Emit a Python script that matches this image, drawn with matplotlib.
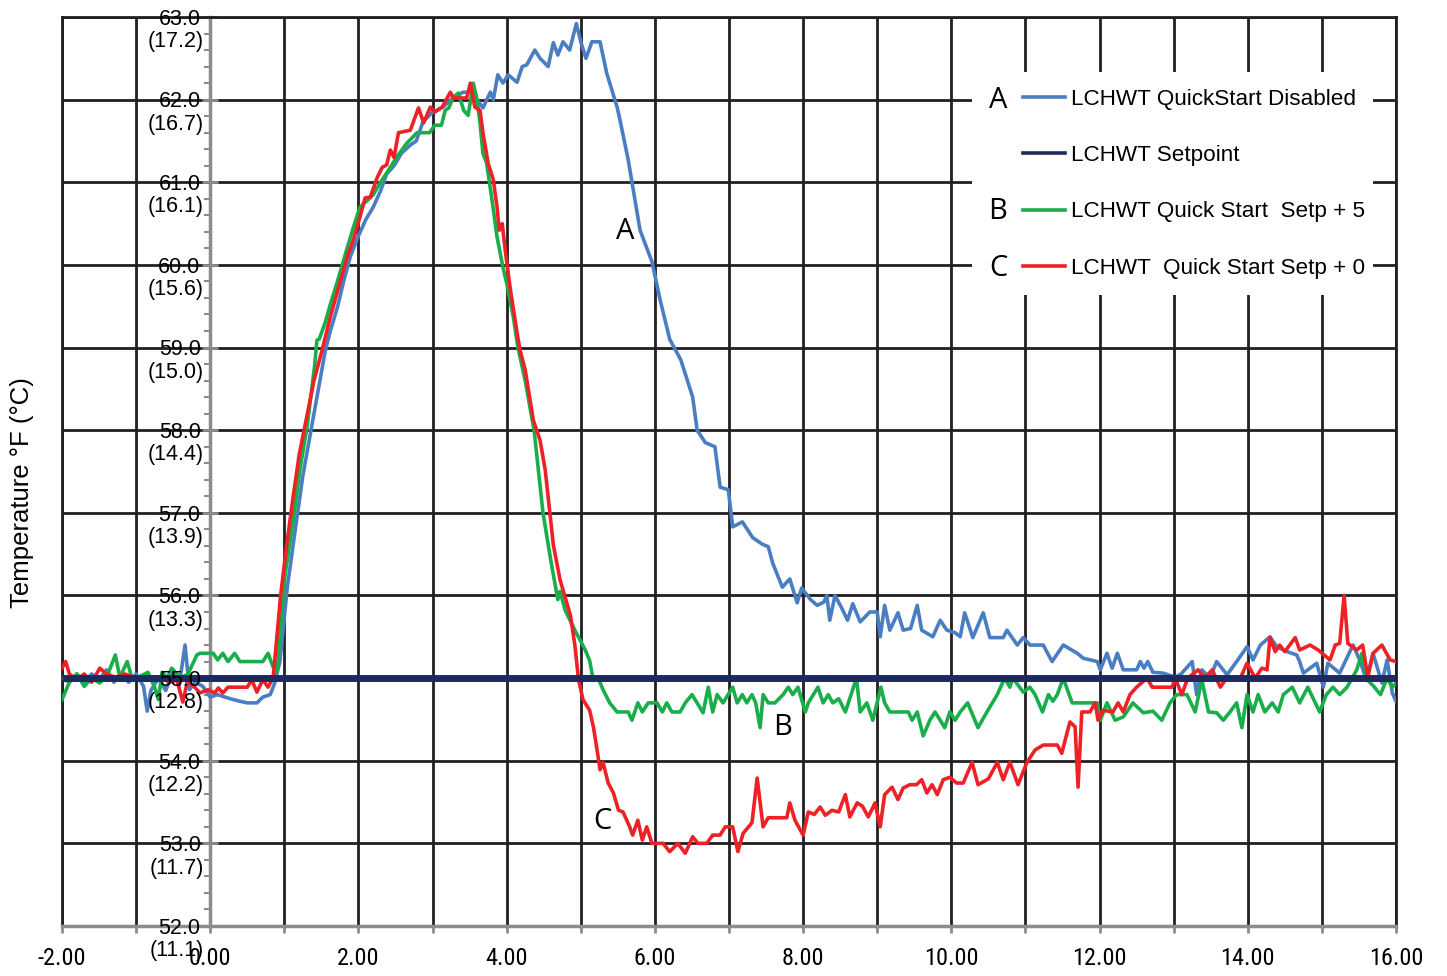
import numpy as np
import matplotlib
matplotlib.use("Agg")
import matplotlib.pyplot as plt
from matplotlib.lines import Line2D
from matplotlib.patches import Rectangle
from matplotlib.ticker import MultipleLocator
from matplotlib import font_manager as fm

# ---------------- data ----------------
blue_x = [-2.0, -1.9, -1.8, -1.7, -1.6, -1.5, -1.4, -1.3, -1.2, -1.1, -1.0, -0.9, -0.85, -0.8, -0.7, -0.6,
          -0.5, -0.42, -0.34, -0.28, -0.2, -0.1, 0.0, 0.1, 0.2, 0.31, 0.4, 0.5, 0.63, 0.71, 0.81, 0.87,
          0.94, 1.04, 1.14, 1.25, 1.35, 1.45, 1.55, 1.62, 1.72, 1.8, 1.89, 2.0, 2.1, 2.2, 2.3, 2.38,
          2.48, 2.58, 2.7, 2.78, 2.87, 2.99, 3.14, 3.25, 3.41, 3.51, 3.60, 3.68, 3.78, 3.82, 3.88, 3.95,
          4.02, 4.14, 4.21, 4.27, 4.38, 4.45, 4.56, 4.63, 4.69, 4.76, 4.85, 4.94, 5.0, 5.07, 5.15, 5.26,
          5.35, 5.49, 5.53, 5.64, 5.80, 5.96, 6.07, 6.2, 6.35, 6.51, 6.57, 6.68, 6.81, 6.88, 6.99, 7.05,
          7.18, 7.32, 7.45, 7.53, 7.59, 7.72, 7.82, 7.92, 7.98, 8.1, 8.19, 8.28, 8.32, 8.36, 8.43, 8.52,
          8.6, 8.67, 8.77, 8.9, 9.0, 9.04, 9.1, 9.17, 9.28, 9.35, 9.45, 9.54, 9.6, 9.75, 9.85, 9.94,
          10.05, 10.12, 10.18, 10.29, 10.43, 10.52, 10.6, 10.70, 10.75, 10.89, 10.97, 11.06, 11.24, 11.36,
          11.51, 11.70, 11.78, 11.97, 12.01, 12.1, 12.17, 12.24, 12.32, 12.5, 12.55, 12.6, 12.65, 12.72,
          12.86, 13.02, 13.1, 13.25, 13.31, 13.38, 13.49, 13.58, 13.72, 13.85, 13.99, 14.07, 14.17, 14.3,
          14.39, 14.53, 14.66, 14.7, 14.75, 14.93, 15.02, 15.08, 15.24, 15.42, 15.51, 15.6, 15.69, 15.81,
          15.88, 15.95, 16.0]
blue_y = [55.0, 54.95, 55.05, 54.95, 55.05, 54.98, 55.1, 54.95, 55.05, 54.95, 55.05, 54.9, 54.6, 54.85, 55.0, 54.85,
          55.1, 54.9, 55.4, 54.86, 54.95, 54.9, 54.77, 54.8, 54.77, 54.74, 54.72, 54.7, 54.7, 54.77, 54.8, 54.94,
          55.2, 56.1, 56.75, 57.45, 57.95, 58.45, 58.95, 59.2, 59.5, 59.8, 60.1, 60.35, 60.55, 60.7, 60.9, 61.1,
          61.2, 61.35, 61.45, 61.5, 61.73, 61.84, 61.91, 62.0, 62.09, 62.09, 62.0, 61.9, 62.09, 62.0, 62.3, 62.2,
          62.3, 62.21, 62.4, 62.42, 62.6, 62.5, 62.4, 62.69, 62.54, 62.7, 62.6, 62.92, 62.7, 62.5, 62.7, 62.7,
          62.32, 61.91, 61.75, 61.27, 60.42, 60.04, 59.58, 59.1, 58.85, 58.40, 58.0, 57.85, 57.8, 57.31, 57.28, 56.83,
          56.89, 56.7, 56.62, 56.59, 56.39, 56.1, 56.2, 55.91, 56.09, 55.95, 55.88, 55.92, 56.0, 55.7, 56.0, 55.85,
          55.7, 55.9, 55.68, 55.8, 55.8, 55.5, 55.88, 55.58, 55.79, 55.58, 55.6, 55.88, 55.58, 55.5, 55.7, 55.58,
          55.55, 55.5, 55.79, 55.49, 55.79, 55.49, 55.49, 55.49, 55.58, 55.4, 55.49, 55.4, 55.4, 55.2,
          55.4, 55.3, 55.24, 55.2, 55.1, 55.3, 55.12, 55.3, 55.1, 55.1, 55.2, 55.12, 55.2, 55.07,
          55.06, 55.01, 55.05, 55.2, 54.8, 55.1, 55.0, 55.2, 55.04, 55.2, 55.38, 55.22, 55.4, 55.5,
          55.38, 55.32, 55.28, 55.2, 55.06, 55.18, 54.89, 55.18, 55.06, 55.4, 55.22, 54.98, 55.3, 54.94,
          55.22, 54.82, 54.72]

green_x = [-2.0, -1.9, -1.8, -1.7, -1.6, -1.49, -1.38, -1.28, -1.22, -1.12, -1.05, -0.95, -0.84, -0.75, -0.70,
           -0.65, -0.58, -0.52, -0.4, -0.3, -0.18, -0.14, 0.04, 0.1, 0.17, 0.24, 0.33, 0.40, 0.55, 0.71, 0.78,
           0.85, 0.90, 1.01, 1.12, 1.21, 1.31, 1.41, 1.44, 1.47, 1.55, 1.63, 1.71, 1.84, 1.93, 2.02, 2.12, 2.2,
           2.29, 2.38, 2.52, 2.65, 2.79, 2.96, 3.03, 3.12, 3.17, 3.22, 3.28, 3.35, 3.42, 3.48, 3.55, 3.6, 3.64,
           3.68, 3.73, 3.8, 3.87, 3.95, 4.0, 4.09, 4.15, 4.25, 4.37, 4.49, 4.6, 4.65, 4.69, 4.72, 4.79, 4.92,
           5.06, 5.12, 5.17, 5.23, 5.30, 5.39, 5.49, 5.64, 5.69, 5.77, 5.83, 5.91, 6.03, 6.10, 6.16, 6.23, 6.34,
           6.41, 6.50, 6.57, 6.65, 6.72, 6.78, 6.84, 6.92, 7.05, 7.11, 7.18, 7.24, 7.31, 7.36, 7.42, 7.46, 7.53,
           7.62, 7.73, 7.80, 7.86, 7.93, 8.03, 8.07, 8.2, 8.27, 8.34, 8.4, 8.48, 8.57, 8.72, 8.77, 8.86, 8.94,
           9.05, 9.1, 9.17, 9.42, 9.47, 9.54, 9.62, 9.71, 9.78, 9.85, 9.91, 9.98, 10.05, 10.12, 10.22, 10.36,
           10.48, 10.62, 10.72, 10.79, 10.83, 10.97, 11.06, 11.13, 11.23, 11.31, 11.37, 11.43, 11.51, 11.63,
           11.97, 12.01, 12.1, 12.21, 12.32, 12.45, 12.59, 12.72, 12.84, 12.95, 13.04, 13.18, 13.29, 13.38,
           13.47, 13.58, 13.67, 13.76, 13.85, 13.92, 13.99, 14.07, 14.14, 14.23, 14.33, 14.41, 14.48, 14.60,
           14.70, 14.81, 14.97, 15.06, 15.15, 15.24, 15.34, 15.47, 15.54, 15.61, 15.7, 15.79, 15.88, 15.95, 16.0]
green_y = [54.74, 54.95, 55.05, 54.9, 55.0, 54.94, 55.05, 55.28, 55.01, 55.2, 54.98, 55.02, 55.07, 54.89, 54.74,
           55.07, 55.0, 55.12, 55.0, 55.05, 55.28, 55.3, 55.3, 55.22, 55.3, 55.2, 55.3, 55.2, 55.2, 55.2, 55.3,
           55.13, 55.07, 56.25, 56.91, 57.52, 58.06, 58.79, 59.09, 59.1, 59.3, 59.55, 59.78, 60.18, 60.45, 60.7, 60.78, 60.85,
           60.99, 61.11, 61.31, 61.47, 61.6, 61.6, 61.69, 61.69, 61.87, 61.9, 62.03, 62.08, 61.87, 61.81, 62.2, 62.0, 61.72,
           61.35, 61.23, 60.8, 60.34, 59.97, 59.78, 59.37, 59.01, 58.6, 58.0, 57.0, 56.4, 56.15, 55.95, 56.05, 55.82, 55.58,
           55.34, 55.21, 54.97, 55.01, 54.86, 54.70, 54.59, 54.59, 54.49, 54.70, 54.59, 54.70, 54.70, 54.59, 54.70, 54.59, 54.59,
           54.70, 54.80, 54.70, 54.58, 54.89, 54.59, 54.80, 54.70, 54.89, 54.70, 54.80, 54.70, 54.80, 54.7, 54.40, 54.80, 54.70,
           54.70, 54.80, 54.89, 54.80, 54.89, 54.59, 54.70, 54.89, 54.70, 54.80, 54.70, 54.75, 54.59, 55.0, 54.59, 54.70, 54.49,
           54.89, 54.7, 54.59, 54.59, 54.49, 54.59, 54.3, 54.49, 54.59, 54.49, 54.4, 54.59, 54.49, 54.59, 54.7, 54.4,
           54.59, 54.8, 55.0, 54.89, 55.0, 54.83, 54.89, 54.8, 54.59, 54.8, 54.72, 54.8, 55.0, 54.7,
           54.7, 54.49, 54.7, 54.49, 54.53, 54.7, 54.58, 54.6, 54.49, 54.7, 54.8, 54.8, 54.59, 54.98,
           54.59, 54.58, 54.49, 54.59, 54.7, 54.4, 54.8, 54.59, 54.8, 54.59, 54.7, 54.59, 54.8, 54.89,
           54.7, 54.89, 54.59, 54.8, 54.89, 54.8, 54.89, 55.1, 55.3, 54.98, 54.9, 54.8, 55.0, 54.89, 54.94]

red_x = [-2.0, -1.95, -1.9, -1.8, -1.7, -1.6, -1.49, -1.4, -1.28, -1.15, -1.04, -0.92, -0.81, -0.68, -0.54,
         -0.45, -0.37, -0.31, -0.22, -0.14, -0.03, 0.06, 0.11, 0.17, 0.24, 0.36, 0.50, 0.56, 0.63, 0.71, 0.78,
         0.85, 0.95, 1.03, 1.12, 1.2, 1.3, 1.4, 1.51, 1.62, 1.75, 1.85, 1.93, 2.02, 2.09, 2.16, 2.25, 2.32,
         2.38, 2.43, 2.48, 2.54, 2.70, 2.81, 2.88, 2.97, 3.03, 3.13, 3.24, 3.28, 3.46, 3.51, 3.57, 3.64, 3.68,
         3.75, 3.82, 3.87, 3.9, 3.94, 3.98, 4.05, 4.14, 4.18, 4.25, 4.36, 4.45, 4.52, 4.63, 4.72, 4.86, 4.92,
         4.97, 5.03, 5.12, 5.17, 5.22, 5.26, 5.30, 5.37, 5.44, 5.51, 5.57, 5.66, 5.70, 5.77, 5.83, 5.89, 5.96,
         6.11, 6.20, 6.31, 6.41, 6.51, 6.58, 6.70, 6.78, 6.88, 6.95, 7.05, 7.12, 7.19, 7.31, 7.38, 7.46, 7.53,
         7.78, 7.82, 7.89, 8.0, 8.07, 8.15, 8.23, 8.30, 8.39, 8.48, 8.57, 8.63, 8.73, 8.8, 8.88, 8.97, 9.04,
         9.10, 9.20, 9.28, 9.35, 9.44, 9.53, 9.60, 9.67, 9.74, 9.81, 9.89, 9.98, 10.07, 10.16, 10.28, 10.36,
         10.5, 10.62, 10.70, 10.79, 10.9, 11.02, 11.13, 11.24, 11.43, 11.49, 11.60, 11.67, 11.71, 11.76, 11.87,
         11.94, 11.98, 12.05, 12.18, 12.25, 12.32, 12.41, 12.5, 12.64, 12.71, 12.88, 12.98, 13.02, 13.11, 13.19,
         13.33, 13.42, 13.52, 13.63, 13.72, 13.9, 13.99, 14.10, 14.19, 14.26, 14.3, 14.37, 14.43, 14.5, 14.64,
         14.7, 14.84, 14.95, 15.11, 15.18, 15.24, 15.30, 15.35, 15.47, 15.55, 15.62, 15.69, 15.81, 15.92, 16.0]
red_y = [55.12, 55.2, 55.05, 54.98, 55.05, 54.95, 55.12, 55.05, 55.01, 55.05, 55.01, 54.98, 55.0, 55.01, 54.95,
         54.98, 54.71, 54.95, 54.9, 54.82, 54.86, 54.82, 54.88, 54.82, 54.89, 54.89, 54.89, 54.98, 54.83, 54.98, 54.89,
         55.01, 56.0, 56.6, 57.2, 57.7, 58.15, 58.6, 58.97, 59.37, 59.78, 60.1, 60.3, 60.58, 60.81, 60.82, 61.05, 61.18,
         61.21, 61.39, 61.3, 61.6, 61.63, 61.9, 61.72, 61.91, 61.85, 61.91, 62.09, 62.02, 62.02, 62.2, 61.91, 61.87, 61.6,
         61.23, 61.03, 60.7, 60.42, 60.5, 60.18, 59.7, 59.18, 58.97, 58.73, 58.12, 57.88, 57.52, 56.61, 56.19, 55.76, 55.4,
         54.98, 54.74, 54.61, 54.41, 54.13, 53.89, 53.98, 53.73, 53.61, 53.40, 53.38, 53.2, 53.1, 53.28, 53.04, 53.2, 53.0,
         53.0, 52.9, 53.0, 52.88, 53.08, 53.0, 53.0, 53.1, 53.1, 53.2, 53.2, 52.9, 53.12, 53.25, 53.79, 53.2, 53.31,
         53.31, 53.49, 53.28, 53.1, 53.38, 53.35, 53.44, 53.34, 53.40, 53.38, 53.59, 53.32, 53.49, 53.45, 53.32, 53.49, 53.2,
         53.59, 53.68, 53.53, 53.67, 53.71, 53.71, 53.77, 53.61, 53.71, 53.59, 53.77, 53.80, 53.73, 53.73, 53.98, 53.71,
         53.78, 53.98, 53.77, 53.98, 53.71, 53.98, 54.13, 54.19, 54.19, 54.09, 54.47, 54.41, 53.68, 54.59, 54.59,
         54.7, 54.49, 54.61, 54.59, 54.7, 54.59, 54.8, 54.89, 55.0, 54.89, 54.89, 54.89, 55.0, 54.8, 55.0,
         55.1, 55.0, 55.1, 54.89, 55.01, 55.0, 55.18, 55.0, 55.12, 55.1, 55.49, 55.32, 55.4, 55.32, 55.49,
         55.34, 55.4, 55.34, 55.22, 55.4, 55.42, 56.0, 55.42, 55.34, 55.4, 55.01, 55.3, 55.4, 55.22, 55.2]

setpoint_x = [-2.0, 16.0]
setpoint_y = [55.0, 55.0]

f_ticks = [63, 62, 61, 60, 59, 58, 57, 56, 55, 54, 53, 52]
c_labels = ["(17.2)", "(16.7)", "(16.1)", "(15.6)", "(15.0)", "(14.4)",
            "(13.9)", "(13.3)", "(12.8)", "(12.2)", "(11.7)", "(11.1)"]
x_ticks = list(range(-2, 17))
x_labels = [f"{v:.2f}" if v % 2 == 0 else "" for v in x_ticks]

legend_labels = ["LCHWT QuickStart Disabled", "LCHWT Setpoint",
                 "LCHWT Quick Start  Setp + 5", "LCHWT  Quick Start Setp + 0"]
legend_letters = ["A", "", "B", "C"]

# ---------------- style ----------------
C_BLUE = "#4a7ec2"
C_GREEN = "#1aae4a"
C_RED = "#ee2127"
C_NAVY = "#1e2a5e"
C_GRID = "#231f20"
C_GRAY = "#8c8c8c"

names = {f.name for f in fm.fontManager.ttflist}
SANS = "Liberation Sans" if "Liberation Sans" in names else "DejaVu Sans"
narrow_candidates = [n for n in ("Liberation Sans Narrow", "Arial Narrow", "DejaVu Sans Condensed",
                                 "Roboto Condensed", "Open Sans Condensed") if n in names]
NARROW = narrow_candidates[0] if narrow_candidates else SANS
HUM = "Open Sans" if "Open Sans" in names else SANS
plt.rcParams["font.family"] = [SANS, "DejaVu Sans"]

fig = plt.figure(figsize=(14.47, 9.76), dpi=100)
ax = fig.add_axes([62 / 1447, 1 - 926 / 976, 1334 / 1447, 909 / 976])
ax.set_xlim(-2, 16)
ax.set_ylim(52, 63)

# grid
ax.set_axisbelow(True)
ax.set_xticks(x_ticks)
ax.set_xticklabels(x_labels, fontsize=17.5 if NARROW != SANS else 14.5, family=NARROW)
ax.set_yticks(f_ticks)
ax.set_yticklabels([])
ax.yaxis.set_minor_locator(MultipleLocator(0.2))
ax.grid(True, which="major", color=C_GRID, lw=2.0)

for s in ["top", "right"]:
    ax.spines[s].set_color(C_GRID)
    ax.spines[s].set_linewidth(2.0)
ax.spines["bottom"].set_color(C_GRAY)
ax.spines["bottom"].set_linewidth(2.5)
ax.spines["left"].set_position(("data", 0))
ax.spines["left"].set_color(C_GRAY)
ax.spines["left"].set_linewidth(2.5)
ax.axvline(-2, color=C_GRID, lw=2.0, clip_on=False, zorder=1)

ax.tick_params(axis="x", which="major", direction="out", length=5, width=2, color=C_GRAY, pad=10)
ax.tick_params(axis="y", which="major", direction="inout", length=11, width=2, color=C_GRAY)
ax.tick_params(axis="y", which="minor", direction="out", length=4, width=1.5, color=C_GRAY)

# series
ax.plot(blue_x, blue_y, color=C_BLUE, lw=2.6, zorder=3)
ax.plot(green_x, green_y, color=C_GREEN, lw=2.6, zorder=3)
ax.plot(red_x, red_y, color=C_RED, lw=2.6, zorder=3)
ax.plot(setpoint_x, setpoint_y, color=C_NAVY, lw=5, zorder=4, solid_capstyle="butt")

# y tick labels (°F with °C below), drawn inside the plot next to x = 0
for f, c in zip(f_ticks, c_labels):
    ax.text(-0.13, f - 0.095, f"{f:.1f}", ha="right", va="baseline", fontsize=15.5, zorder=10, clip_on=False)
    ax.text(-0.09, f - 0.365, c, ha="right", va="baseline", fontsize=15.5, zorder=10, clip_on=False)

fig.text(22 / 1447, 1 - 493 / 976, "Temperature °F (°C)", rotation=90, ha="center", va="center", fontsize=18.5)

# curve annotations
ax.text(5.60, 60.40, "A", fontsize=21, family=HUM, ha="center", va="center", zorder=10)
ax.text(7.72, 54.40, "B", fontsize=21, family=HUM, ha="center", va="center", zorder=10)
ax.text(5.29, 53.26, "C", fontsize=21, family=HUM, ha="center", va="center", zorder=10)

# legend
ax.add_patch(Rectangle((0.682, 0.694), 0.301, 0.2455, transform=ax.transAxes,
                       facecolor="white", edgecolor="none", zorder=2.5))
handles = [Line2D([], [], color=c, lw=2.6) for c in (C_BLUE, C_NAVY, C_GREEN, C_RED)]
leg = ax.legend(handles, legend_labels, loc="upper left", bbox_to_anchor=(0.7204, 0.9205),
                frameon=False, fontsize=16.2, handlelength=1.88, handletextpad=0.25,
                labelspacing=1.56, borderaxespad=0, borderpad=0)
leg.set_zorder(5)
row_y = [0.9085, 0.850, 0.7855, 0.7235]
for letter, yy in zip(legend_letters, row_y):
    if letter:
        ax.text(0.7016, yy, letter, transform=ax.transAxes, fontsize=21, family=HUM,
                ha="center", va="center", zorder=6)

fig.savefig("out.png", dpi=100)
